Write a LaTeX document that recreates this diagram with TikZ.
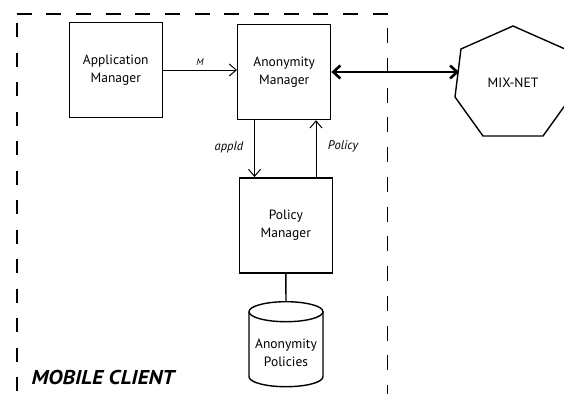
\documentclass[tikz,border=0pt]{standalone}
\usepackage{fontspec}
\setmainfont{PT Sans}
\newfontfamily\titlefont[FakeStretch=1.1]{PT Sans}
\usetikzlibrary{arrows.meta}
\begin{document}
\begin{tikzpicture}[x=1pt,y=-1pt,
  block/.style={draw, line width=1.4pt, minimum width=93pt, minimum height=95pt,
    inner sep=0pt, align=center, font=\fontsize{13.5}{17.5}\selectfont},
  flow/.style={line width=1pt, -{Straight Barb[length=7pt,width=12pt]}},
  tag/.style={font=\fontsize{12.5}{14}\selectfont\itshape},
  frame/.style={line width=1.4pt}]
\useasboundingbox (0,0) rectangle (564,394);
\clip (0,0) rectangle (564,394);

% mobile client boundary (open at the bottom)
\draw[frame, line width=2pt, dash pattern=on 15pt off 14.67pt] (16.7,13.5) -- (388.5,13.5);
\draw[frame, dash pattern=on 14pt off 15.5pt] (17,23) -- (17,394);
\draw[frame, dash pattern=on 15pt off 14.75pt] (387.5,28) -- (387.5,394);

% components
\node[block] (app) at (115.8,70) {Application\\Manager};
\node[block] (anon) at (284.2,72) {Anonymity\\Manager};
\node[block] (pol) at (285.8,225.3) {Policy\\Manager};

% policy store (cylinder)
\draw[line width=1.4pt] (286,311.7) ellipse (37pt and 10pt);
\draw[line width=1.4pt] (249,311.7) -- (249,376.7) arc (180:360:37pt and 10pt) -- (323,311.7);
\coordinate (dbtop) at (286,301.7);
\node[align=center, font=\fontsize{13.5}{17.5}\selectfont] (db) at (286,353) {Anonymity\\Policies};

% mix network (heptagon)
\draw[line width=1.4pt] (513,26) -- (461,49) -- (455,97) -- (483,136) -- (543,136) -- (571,97) -- (565,49) -- cycle;
\node[font=\fontsize{13.5}{16}\selectfont] (mix) at (513,83) {MIX-NET};
\coordinate (mixL) at (459,72);

% connectors
\draw[flow] (app.east) -- (app.east -| anon.west) node[midway, above=1pt, font=\fontsize{9.5}{11}\selectfont\itshape] (m) {M};
\draw[flow] (anon.south -| 254.5,0) -- (pol.north -| 254.5,0);
\draw[flow] (pol.north -| 316,0) -- (anon.south -| 316,0);
\node[tag] (lappid) at (229,147) {appId};
\node[tag] (lpolicy) at (343,146.7) {Policy};
\draw[line width=1.4pt] (pol.south) -- (dbtop);
\draw[line width=2.6pt, {Straight Barb[length=7pt,width=13pt]}-{Straight Barb[length=7pt,width=13pt]}] (anon.east) -- (mixL);

% boundary title
\node[anchor=west, font=\titlefont\fontsize{20}{22}\selectfont\bfseries\itshape] (title) at (28,377) {MOBILE CLIENT};
\end{tikzpicture}
\end{document}
